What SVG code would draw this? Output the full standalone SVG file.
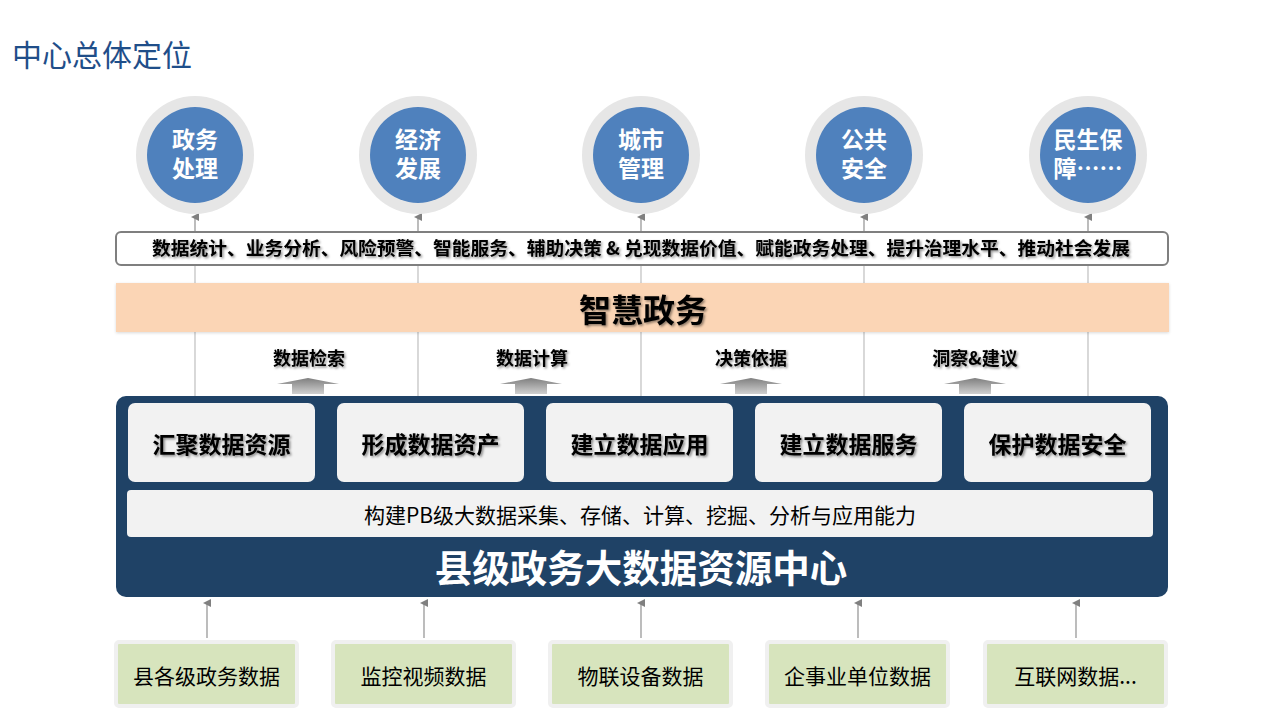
<svg xmlns="http://www.w3.org/2000/svg" width="1280" height="720" viewBox="0 0 1280 720">
<defs>
  <filter id="ts" x="-5%" y="-30%" width="110%" height="160%">
    <feDropShadow dx="1.5" dy="1.5" stdDeviation="0.8" flood-color="#000" flood-opacity="0.45"/>
  </filter>
  <filter id="bs" x="-2%" y="-20%" width="104%" height="140%">
    <feDropShadow dx="0" dy="1" stdDeviation="1.5" flood-color="#000" flood-opacity="0.15"/>
  </filter>
  <linearGradient id="ag" x1="0" y1="0" x2="0" y2="1">
    <stop offset="0" stop-color="#7f7f7f"/>
    <stop offset="1" stop-color="#d0d0d0"/>
  </linearGradient>
  <marker id="ah" markerWidth="8" markerHeight="8" refX="4" refY="4" orient="auto" markerUnits="userSpaceOnUse">
    <path d="M0,8 L4,0 L8,8 Z" fill="#808080"/>
  </marker>
  <style>
    .cjk { font-family: "Noto Sans CJK SC", "Microsoft YaHei", sans-serif; }
    .ring { fill: #e6e6e6; }
    .disc { fill: #4f81bd; }
    .ctext { fill: #ffffff; font-size: 23px; font-weight: bold; text-anchor: middle; }
    .vline { stroke: #bfbfbf; stroke-width: 1.2; fill: none; }
    .conn { stroke: #999999; stroke-width: 1.3; fill: none; marker-end: url(#ah); }
    .card { fill: #f2f2f2; }
    .cardt { fill: #000; font-size: 23px; font-weight: bold; text-anchor: middle; filter: url(#ts); }
    .lab { fill: #000; font-size: 18px; font-weight: bold; text-anchor: middle; filter: url(#ts); }
    .src { fill: #d7e4bd; stroke: #f0f0f0; stroke-width: 4; }
    .srct { fill: #000; font-size: 21px; text-anchor: middle; }
    .barrow { fill: url(#ag); }
  </style>
</defs>

<text x="12" y="66" class="cjk" font-size="30" fill="#1f4e89">中心总体定位</text>

<g id="connectors">
  <line class="vline" x1="195" y1="265" x2="195" y2="396"/>
  <line class="vline" x1="418" y1="265" x2="418" y2="396"/>
  <line class="vline" x1="641" y1="265" x2="641" y2="396"/>
  <line class="vline" x1="864" y1="265" x2="864" y2="396"/>
  <line class="vline" x1="1088" y1="265" x2="1088" y2="396"/>
  <line class="conn" x1="195" y1="232" x2="195" y2="217"/>
  <line class="conn" x1="418" y1="232" x2="418" y2="217"/>
  <line class="conn" x1="641" y1="232" x2="641" y2="217"/>
  <line class="conn" x1="864" y1="232" x2="864" y2="217"/>
  <line class="conn" x1="1088" y1="232" x2="1088" y2="217"/>
  <line class="conn" x1="207" y1="638" x2="207" y2="603"/>
  <line class="conn" x1="424" y1="638" x2="424" y2="603"/>
  <line class="conn" x1="641" y1="638" x2="641" y2="603"/>
  <line class="conn" x1="858" y1="638" x2="858" y2="603"/>
  <line class="conn" x1="1076" y1="638" x2="1076" y2="603"/>
</g>

<g id="goal-1"><circle class="ring" cx="195" cy="155" r="59"/><circle class="disc" cx="195" cy="155" r="48"/>
  <text class="cjk ctext"><tspan x="195" y="148">政务</tspan><tspan x="195" y="177">处理</tspan></text></g>
<g id="goal-2"><circle class="ring" cx="418" cy="155" r="59"/><circle class="disc" cx="418" cy="155" r="48"/>
  <text class="cjk ctext"><tspan x="418" y="148">经济</tspan><tspan x="418" y="177">发展</tspan></text></g>
<g id="goal-3"><circle class="ring" cx="641" cy="155" r="59"/><circle class="disc" cx="641" cy="155" r="48"/>
  <text class="cjk ctext"><tspan x="641" y="148">城市</tspan><tspan x="641" y="177">管理</tspan></text></g>
<g id="goal-4"><circle class="ring" cx="864" cy="155" r="59"/><circle class="disc" cx="864" cy="155" r="48"/>
  <text class="cjk ctext"><tspan x="864" y="148">公共</tspan><tspan x="864" y="177">安全</tspan></text></g>
<g id="goal-5"><circle class="ring" cx="1088" cy="155" r="59"/><circle class="disc" cx="1088" cy="155" r="48"/>
  <text class="cjk ctext"><tspan x="1088" y="148">民生保</tspan><tspan x="1088" y="177">障……</tspan></text></g>

<g id="value-box">
  <rect x="116" y="232" width="1052" height="33" rx="5" fill="#ffffff" stroke="#7f7f7f" stroke-width="2"/>
  <text class="cjk" x="641" y="255" font-size="18" font-weight="bold" text-anchor="middle" filter="url(#ts)" textLength="978" lengthAdjust="spacingAndGlyphs">数据统计、业务分析、风险预警、智能服务、辅助决策 &amp; 兑现数据价值、赋能政务处理、提升治理水平、推动社会发展</text>
</g>

<g id="smart-gov">
  <rect x="116" y="283" width="1053" height="49" fill="#fbd5b5" filter="url(#bs)"/>
  <text class="cjk" x="643" y="322" font-size="32" font-weight="bold" text-anchor="middle" fill="#000" filter="url(#ts)">智慧政务</text>
</g>

<g id="labels">
  <text class="cjk lab" x="309" y="365">数据检索</text>
  <text class="cjk lab" x="532" y="365">数据计算</text>
  <text class="cjk lab" x="751" y="365">决策依据</text>
  <text class="cjk lab" x="975" y="365">洞察&amp;建议</text>
  <path class="barrow" d="M277,384 L308,378 L339,384 L324,384 L324,394 L292,394 L292,384 Z"/>
  <path class="barrow" d="M500,384 L531,378 L562,384 L547,384 L547,394 L515,394 L515,384 Z"/>
  <path class="barrow" d="M720,384 L751,378 L782,384 L767,384 L767,394 L735,394 L735,384 Z"/>
  <path class="barrow" d="M944,384 L975,378 L1006,384 L991,384 L991,394 L959,394 L959,384 Z"/>
</g>

<g id="data-center">
  <rect x="116" y="396" width="1052" height="201" rx="10" fill="#1f4266"/>
  <text class="cjk" x="641" y="582" font-size="37.5" font-weight="bold" text-anchor="middle" fill="#ffffff">县级政务大数据资源中心</text>
</g>

<g id="card-1"><rect class="card" x="128" y="403" width="187" height="79" rx="7"/><text class="cjk cardt" x="221.5" y="453">汇聚数据资源</text></g>
<g id="card-2"><rect class="card" x="337" y="403" width="187" height="79" rx="7"/><text class="cjk cardt" x="430.5" y="453">形成数据资产</text></g>
<g id="card-3"><rect class="card" x="546" y="403" width="187" height="79" rx="7"/><text class="cjk cardt" x="639.5" y="453">建立数据应用</text></g>
<g id="card-4"><rect class="card" x="755" y="403" width="187" height="79" rx="7"/><text class="cjk cardt" x="848.5" y="453">建立数据服务</text></g>
<g id="card-5"><rect class="card" x="964" y="403" width="187" height="79" rx="7"/><text class="cjk cardt" x="1057.5" y="453">保护数据安全</text></g>

<g id="capability-bar">
  <rect x="127" y="490" width="1026" height="47" rx="4" fill="#f2f2f2"/>
  <text class="cjk" x="640" y="523" font-size="21" text-anchor="middle" fill="#000">构建PB级大数据采集、存储、计算、挖掘、分析与应用能力</text>
</g>

<g id="src-1"><rect class="src" x="116" y="642" width="181" height="64" rx="3"/><text class="cjk srct" x="206.5" y="684">县各级政务数据</text></g>
<g id="src-2"><rect class="src" x="333" y="642" width="181" height="64" rx="3"/><text class="cjk srct" x="423.5" y="684">监控视频数据</text></g>
<g id="src-3"><rect class="src" x="550" y="642" width="181" height="64" rx="3"/><text class="cjk srct" x="640.5" y="684">物联设备数据</text></g>
<g id="src-4"><rect class="src" x="767" y="642" width="181" height="64" rx="3"/><text class="cjk srct" x="857.5" y="684">企事业单位数据</text></g>
<g id="src-5"><rect class="src" x="985" y="642" width="181" height="64" rx="3"/><text class="cjk srct" x="1075.5" y="684">互联网数据...</text></g>
</svg>
